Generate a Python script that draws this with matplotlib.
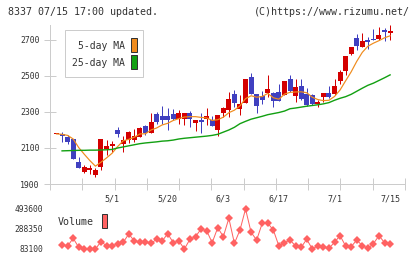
import numpy as np
import matplotlib
matplotlib.use("Agg")
import matplotlib.pyplot as plt
from matplotlib.patches import Rectangle

# ---------------- data ----------------
opens = [2176, 2180, 2160, 2148, 2020, 1968, 1978, 1952, 1996, 2095, 2113, 2200, 2122, 2144, 2145,
         2163, 2222, 2185, 2289, 2278, 2278, 2289, 2261, 2260, 2293, 2241, 2255, 2262, 2256, 2200,
         2296, 2311, 2400, 2317, 2352, 2493, 2400, 2389, 2407, 2406, 2411, 2396, 2483, 2389, 2446,
         2400, 2394, 2345, 2381, 2406, 2398, 2474, 2530, 2620, 2709, 2663, 2700, 2706, 2704, 2756, 2741]
highs = [2180, 2190, 2172, 2150, 2050, 2005, 2005, 1990, 2150, 2145, 2140, 2217, 2167, 2195, 2205,
         2215, 2225, 2296, 2302, 2333, 2320, 2316, 2311, 2295, 2306, 2258, 2296, 2324, 2278, 2285,
         2326, 2413, 2422, 2394, 2485, 2515, 2402, 2417, 2506, 2413, 2456, 2472, 2506, 2483, 2483,
         2432, 2398, 2367, 2408, 2444, 2483, 2533, 2613, 2660, 2733, 2737, 2715, 2761, 2770, 2765, 2783]
lows = [2176, 2135, 2120, 2040, 1988, 1960, 1955, 1937, 1975, 2062, 2075, 2160, 2075, 2130, 2135,
        2160, 2170, 2183, 2232, 2235, 2200, 2255, 2233, 2228, 2218, 2196, 2185, 2228, 2222, 2168,
        2270, 2270, 2330, 2283, 2350, 2400, 2296, 2344, 2381, 2330, 2360, 2394, 2413, 2357, 2368,
        2335, 2340, 2330, 2357, 2380, 2396, 2456, 2506, 2618, 2644, 2660, 2648, 2700, 2700, 2696, 2700]
closes = [2179, 2165, 2135, 2040, 1990, 1995, 1990, 1980, 2150, 2110, 2123, 2175, 2144, 2190, 2167,
          2213, 2182, 2246, 2246, 2255, 2256, 2263, 2293, 2293, 2263, 2256, 2246, 2278, 2224, 2283,
          2324, 2372, 2348, 2344, 2483, 2402, 2335, 2367, 2428, 2363, 2363, 2472, 2418, 2437, 2370,
          2339, 2344, 2354, 2407, 2381, 2444, 2522, 2611, 2659, 2668, 2694, 2691, 2700, 2728, 2746, 2748]

ma5 = [2178, 2176, 2170, 2150, 2102, 2065, 2030, 1999, 2021, 2045, 2071, 2108, 2140, 2148, 2160,
       2178, 2179, 2200, 2211, 2228, 2237, 2253, 2263, 2272, 2274, 2274, 2270, 2267, 2253, 2257,
       2271, 2296, 2310, 2334, 2374, 2390, 2382, 2386, 2403, 2379, 2371, 2399, 2409, 2411, 2412,
       2407, 2382, 2369, 2363, 2365, 2386, 2422, 2473, 2523, 2581, 2631, 2665, 2682, 2696, 2712, 2723]
# 25-day MA, from the second session onward
ma25 = [2084, 2085, 2086, 2087, 2087, 2088, 2088, 2089, 2090, 2092, 2100, 2106, 2112, 2118, 2124,
        2128, 2131, 2134, 2138, 2140, 2144, 2150, 2154, 2157, 2160, 2163, 2166, 2170, 2176, 2188,
        2200, 2215, 2235, 2248, 2260, 2268, 2276, 2285, 2291, 2297, 2305, 2318, 2322, 2327, 2332,
        2336, 2340, 2345, 2352, 2365, 2376, 2385, 2398, 2415, 2432, 2448, 2460, 2475, 2490, 2506]
# volume, from the second session onward
volume = [124000, 114000, 193000, 100000, 86000, 84000, 83500, 158000, 117000, 117000, 134000, 152000,
          237000, 165000, 152000, 152000, 141000, 183000, 165000, 240000, 148000, 165000, 83100, 183000,
          210000, 288000, 271000, 148000, 302000, 210000, 398000, 141000, 278000, 493600, 254000, 175000,
          347000, 347000, 278000, 114000, 148000, 175000, 114000, 100000, 183000, 84000, 114000, 100000,
          90000, 152000, 220000, 114000, 107000, 175000, 117000, 90000, 138000, 220000, 148000, 134000]

date_labels = ["5/1", "5/20", "6/3", "6/17", "7/1", "7/15"]
date_label_idx = [10, 20, 30, 40, 50, 60]
price_ticks = [1900, 2100, 2300, 2500, 2700]
vol_ticks = [83100, 288350, 493600]
title_left = "8337 07/15 17:00 updated."
title_right = "(C)https://www.rizumu.net/"

# ---------------- style ----------------
W, H = 420, 259
FONT = "DejaVu Sans Mono"
TXT = "#333333"
GRID = "#cccccc"
UP = "#d40000"
DOWN = "#4040c0"
ORANGE = "#f08c1e"
GREEN = "#12a012"
VOLC = "#ff6262"
PX = 0.72  # one pixel in points

fig = plt.figure(figsize=(W / 100, H / 100), dpi=100)
fig.patch.set_facecolor("white")


def fx(x):
    return x / W


def fy(y):
    return 1 - y / H


# main price axes
ax = fig.add_axes([fx(50), fy(184), (405 - 50) / W, (184 - 25) / H])
n = len(opens)
idx = np.arange(n)
x0 = -1.17
x1 = 62.68
ax.set_xlim(x0, x1)
ax.set_ylim(1900, 2783)

o = np.array(opens, float)
c = np.array(closes, float)
hi = np.array(highs, float)
lo = np.array(lows, float)
colors = [UP if cc >= oo else DOWN for oo, cc in zip(o, c)]
ax.vlines(idx, lo, hi, colors=colors, linewidth=1 * PX, zorder=2)
bottoms = np.minimum(o, c)
heights = np.maximum(np.abs(c - o), 5.5)
ax.bar(idx, heights, bottom=bottoms, width=0.9, color=colors, linewidth=0, zorder=3)

ax.plot(idx, ma5, color=ORANGE, linewidth=1.2 * PX, zorder=4)
ax.plot(idx[1:], ma25, color=GREEN, linewidth=1.4 * PX, zorder=4)

for s in ["top", "right"]:
    ax.spines[s].set_visible(False)
for s in ["left", "bottom"]:
    ax.spines[s].set_color(GRID)
    ax.spines[s].set_linewidth(PX)

ax.set_yticks(price_ticks)
ax.set_yticklabels([str(t) for t in price_ticks], fontfamily=FONT, fontsize=5.9, color=TXT)
ax.tick_params(axis="y", direction="inout", length=12 * PX, width=PX, color=GRID, pad=3.2)

ax.set_xticks(np.linspace(x0, x1, 12))
ax.set_xticklabels([])
ax.tick_params(axis="x", which="major", direction="inout", length=12 * PX, width=PX, color=GRID)
ax.set_xticks(date_label_idx, minor=True)
ax.set_xticklabels(date_labels, minor=True, fontfamily=FONT, fontsize=6.0, color=TXT)
ax.tick_params(axis="x", which="minor", length=0, pad=7.5)

# volume axes
axv = fig.add_axes([fx(50), fy(253), (405 - 50) / W, (253 - 205) / H])
axv.set_xlim(x0, x1)
vpad = 4 * (493600 - 83100) / 40
axv.set_ylim(min(volume) - vpad, max(volume) + vpad)
axv.plot(idx[1:], volume, color=VOLC, linewidth=1 * PX, marker="D", markersize=3.7,
         markeredgewidth=0, markerfacecolor=VOLC)
for s in axv.spines.values():
    s.set_visible(False)
axv.set_xticks([])
axv.set_yticks(vol_ticks)
axv.set_yticklabels([str(t) for t in vol_ticks], fontfamily=FONT, fontsize=5.7, color=TXT)
axv.tick_params(axis="y", length=0, pad=5)
axv.patch.set_alpha(0)

# titles
fig.text(fx(8), fy(12), title_left, ha="left", va="center", fontfamily=FONT, fontsize=7.2, color=TXT)
fig.text(fx(410), fy(12), title_right, ha="right", va="center", fontfamily=FONT, fontsize=7.2, color=TXT)


def rect(x, y, w, h, fc, ec, lw=PX, z=10):
    r = Rectangle((fx(x), fy(y + h)), w / W, h / H, transform=fig.transFigure,
                  facecolor=fc, edgecolor=ec, linewidth=lw, zorder=z)
    fig.add_artist(r)


# MA legend
rect(65, 30, 78, 47, "white", GRID)
fig.text(fx(125), fy(46), "5-day MA", ha="right", va="center", fontfamily=FONT, fontsize=7.0,
         color=TXT, zorder=11)
fig.text(fx(125), fy(63), "25-day MA", ha="right", va="center", fontfamily=FONT, fontsize=7.0,
         color=TXT, zorder=11)
rect(131, 38, 6, 14, ORANGE, "#333333", z=11)
rect(131, 55, 6, 14, GREEN, "#333333", z=11)

# volume legend
fig.text(fx(58), fy(222), "Volume", ha="left", va="center", fontfamily=FONT, fontsize=7.2,
         color=TXT, zorder=11)
rect(102, 214, 5, 14, VOLC, "#333333", z=11)

fig.savefig("out.png", dpi=100, facecolor="white")
